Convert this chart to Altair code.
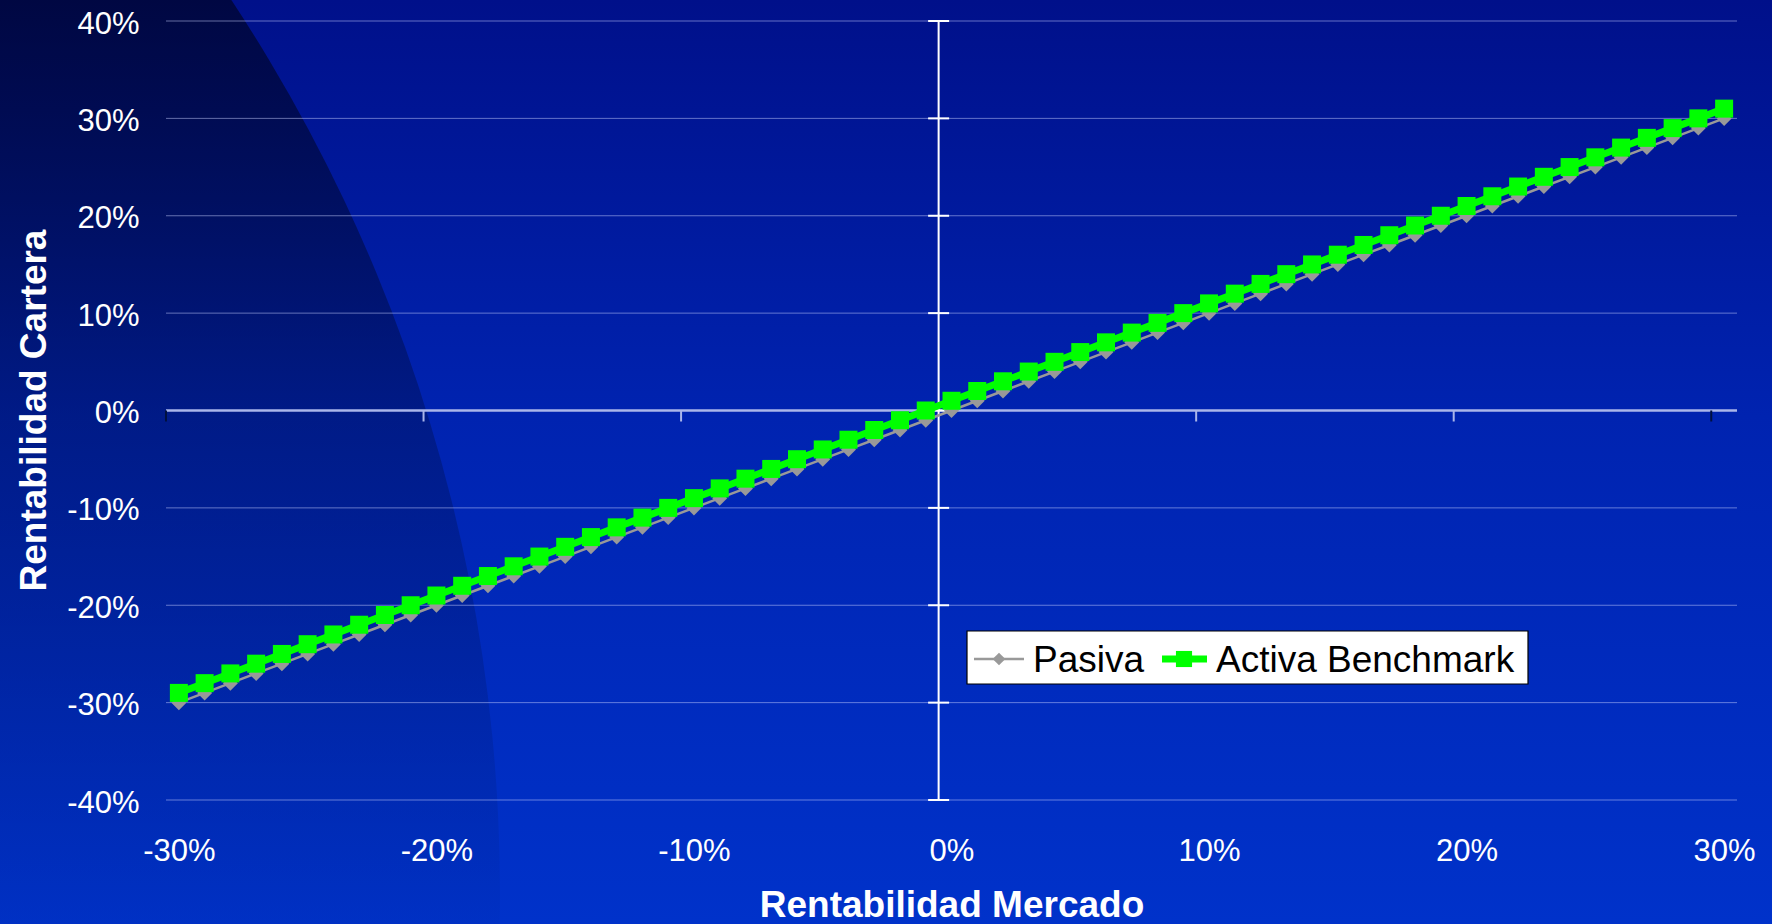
import altair as alt
import pandas as pd

# ---------------- data ----------------
mercado = [-30, -29, -28, -27, -26, -25, -24, -23, -22, -21, -20, -19, -18, -17, -16,
           -15, -14, -13, -12, -11, -10, -9, -8, -7, -6, -5, -4, -3, -2, -1, 0,
           1, 2, 3, 4, 5, 6, 7, 8, 9, 10, 11, 12, 13, 14, 15, 16, 17, 18, 19, 20,
           21, 22, 23, 24, 25, 26, 27, 28, 29, 30]
pasiva = [-30, -29, -28, -27, -26, -25, -24, -23, -22, -21, -20, -19, -18, -17, -16,
          -15, -14, -13, -12, -11, -10, -9, -8, -7, -6, -5, -4, -3, -2, -1, 0,
          1, 2, 3, 4, 5, 6, 7, 8, 9, 10, 11, 12, 13, 14, 15, 16, 17, 18, 19, 20,
          21, 22, 23, 24, 25, 26, 27, 28, 29, 30]
activa = [-29, -28, -27, -26, -25, -24, -23, -22, -21, -20, -19, -18, -17, -16, -15,
          -14, -13, -12, -11, -10, -9, -8, -7, -6, -5, -4, -3, -2, -1, 0, 1,
          2, 3, 4, 5, 6, 7, 8, 9, 10, 11, 12, 13, 14, 15, 16, 17, 18, 19, 20, 21,
          22, 23, 24, 25, 26, 27, 28, 29, 30, 31]
series_names = ["Pasiva", "Activa Benchmark"]
y_ticks = [-40, -30, -20, -10, 0, 10, 20, 30, 40]
x_labels = [-30, -20, -10, 0, 10, 20, 30]
x_tick_light = [-20.5, -10.5, 9.5, 19.5]   # category boundaries
x_tick_dark = [-30.5, 29.5]

FONT = "Liberation Sans"
W, H = 1571, 779
PL, PT = 166, 21

df_p = pd.DataFrame({"x": mercado, "y": pasiva, "s": series_names[0]})
df_a = pd.DataFrame({"x": mercado, "y": activa, "s": series_names[1]})
one = pd.DataFrame({"k": [0]})

xscale = alt.Scale(domain=[-30.5, 30.5], nice=False, zero=False)
yscale = alt.Scale(domain=[-40, 40], nice=False, zero=False)

xaxis = alt.Axis(values=x_labels, labelExpr="datum.value + '%'", grid=False, domain=False,
                 ticks=False, tickSize=0, labelPadding=51, labelBaseline="middle",
                 labelFlush=False, labelOverlap=False, labelBound=False,
                 labelFont=FONT, labelFontSize=31, labelColor="white",
                 title="Rentabilidad Mercado", titleFont=FONT, titleFontSize=37,
                 titleFontWeight="bold", titleColor="white", titleY=105,
                 titleBaseline="middle", zindex=1)
yaxis = alt.Axis(values=y_ticks, labelExpr="datum.value + '%'", grid=False, domain=False,
                 ticks=False, tickSize=0, labelPadding=27, labelBaseline="middle",
                 labelOffset=3,
                 labelFlush=False, labelOverlap=False, labelBound=False,
                 labelFont=FONT, labelFontSize=31, labelColor="white",
                 title="Rentabilidad Cartera", titleFont=FONT, titleFontSize=37,
                 titleFontWeight="bold", titleColor="white", titleX=-132, titleY=389,
                 titleAngle=-90, titleAlign="center", titleBaseline="middle", zindex=1)


def X(field=None, datum=None):
    if datum is not None:
        return alt.X(datum=datum, scale=xscale, axis=xaxis)
    return alt.X(field, type="quantitative", scale=xscale, axis=xaxis)


def Y(field=None, datum=None):
    if datum is not None:
        return alt.Y(datum=datum, scale=yscale, axis=yaxis)
    return alt.Y(field, type="quantitative", scale=yscale, axis=yaxis)


# ---------------- background ----------------
bg = alt.Chart(one).mark_rect(
    fill=alt.LinearGradient(
        gradient="linear", x1=0, x2=0, y1=0, y2=1,
        stops=[alt.GradientStop(color="#00108a", offset=0),
               alt.GradientStop(color="#0023b0", offset=0.45),
               alt.GradientStop(color="#0032ca", offset=1)])
).encode(x=alt.value(-PL), x2=alt.value(1772 - PL), y=alt.value(-PT), y2=alt.value(924 - PT))

dark = alt.Chart(one).mark_arc(
    theta=0, theta2=6.2832, radius=1622,
    fill=alt.LinearGradient(
        gradient="linear", x1=0, x2=0, y1=0, y2=1,
        stops=[alt.GradientStop(color="rgba(0,0,10,0.6)", offset=0),
               alt.GradientStop(color="rgba(0,0,10,0.56)", offset=0.224),
               alt.GradientStop(color="rgba(0,0,10,0.25)", offset=0.351),
               alt.GradientStop(color="rgba(0,0,10,0.03)", offset=0.509),
               alt.GradientStop(color="rgba(0,0,10,0)", offset=1)])
).encode(x=alt.value(-1122 - PL), y=alt.value(894 - PT))

# ---------------- grid / axes lines ----------------
grid = alt.Chart(pd.DataFrame({"yt": y_ticks})).mark_rule(
    color="#c8d0ff", opacity=0.5, strokeWidth=1
).encode(y=Y("yt"), x=alt.value(0), x2=alt.value(W))

zero_line = alt.Chart(one).mark_rule(color="#aab6ea", strokeWidth=2.5).encode(
    y=Y(datum=0), x=alt.value(0), x2=alt.value(W))

xt_light = alt.Chart(pd.DataFrame({"b": x_tick_light})).mark_rule(
    color="#aab6ea", strokeWidth=2, y2Offset=11
).encode(x=X("b"), y=Y(datum=0), y2=alt.Y2(datum=0))

xt_dark = alt.Chart(pd.DataFrame({"b": x_tick_dark})).mark_rule(
    color="#001040", strokeWidth=2, y2Offset=11
).encode(x=X("b"), y=Y(datum=0), y2=alt.Y2(datum=0))

v_axis = alt.Chart(one).mark_rule(color="white", strokeWidth=2).encode(
    x=X(datum=-0.5), y=Y(datum=-40), y2=alt.Y2(datum=40))

v_ticks = alt.Chart(pd.DataFrame({"yt": y_ticks})).mark_rule(
    color="white", strokeWidth=2, xOffset=-10.5, x2Offset=10.5
).encode(x=X(datum=-0.5), x2=alt.X2(datum=-0.5), y=Y("yt"))

# ---------------- series ----------------
gray_line = alt.Chart(df_p).mark_line(color="#999999", strokeWidth=2.5).encode(x=X("x"), y=Y("y"))
gray_pts = alt.Chart(df_p).mark_point(shape="diamond", filled=True, size=225, color="#999999",
                                      opacity=1).encode(x=X("x"), y=Y("y"))
green_line = alt.Chart(df_a).mark_line(color="#00ff00", strokeWidth=7).encode(x=X("x"), y=Y("y"))
green_pts = alt.Chart(df_a).mark_square(size=324, color="#00ff00", opacity=1).encode(x=X("x"), y=Y("y"))

# ---------------- legend (drawn) ----------------
LY = 659 - PT
leg_box = alt.Chart(one).mark_rect(fill="white", stroke="black", strokeWidth=1.2).encode(
    x=alt.value(967 - PL), x2=alt.value(1528 - PL), y=alt.value(631 - PT), y2=alt.value(684 - PT))
leg_gline = alt.Chart(one).mark_rule(color="#999999", strokeWidth=2.5).encode(
    x=alt.value(974 - PL), x2=alt.value(1024 - PL), y=alt.value(LY))
leg_gpt = alt.Chart(one).mark_point(shape="diamond", filled=True, size=160, color="#999999",
                                    opacity=1).encode(x=alt.value(999 - PL), y=alt.value(LY))
leg_aline = alt.Chart(one).mark_rule(color="#00ff00", strokeWidth=7).encode(
    x=alt.value(1162 - PL), x2=alt.value(1207 - PL), y=alt.value(LY))
leg_apt = alt.Chart(one).mark_square(size=260, color="#00ff00", opacity=1).encode(
    x=alt.value(1184 - PL), y=alt.value(LY))
leg_t1 = alt.Chart(one).mark_text(text=series_names[0], font=FONT, fontSize=37, color="black",
                                  align="left", baseline="middle").encode(
    x=alt.value(1033 - PL), y=alt.value(LY + 2))
leg_t2 = alt.Chart(one).mark_text(text=series_names[1], font=FONT, fontSize=37, color="black",
                                  align="left", baseline="middle").encode(
    x=alt.value(1216 - PL), y=alt.value(LY + 2))

chart = alt.layer(
    bg, dark, grid, zero_line, xt_light, xt_dark, v_axis, v_ticks,
    gray_line, gray_pts, green_line, green_pts,
    leg_box, leg_gline, leg_gpt, leg_aline, leg_apt, leg_t1, leg_t2
).properties(
    width=W, height=H,
    padding={"left": PL, "top": PT, "right": 1772 - PL - W, "bottom": 924 - PT - H},
    autosize=alt.AutoSizeParams(type="none"),
    background="#0022aa"
).configure_view(stroke=None)

chart.save("out.html", embed_options={"renderer": "svg", "actions": False})
